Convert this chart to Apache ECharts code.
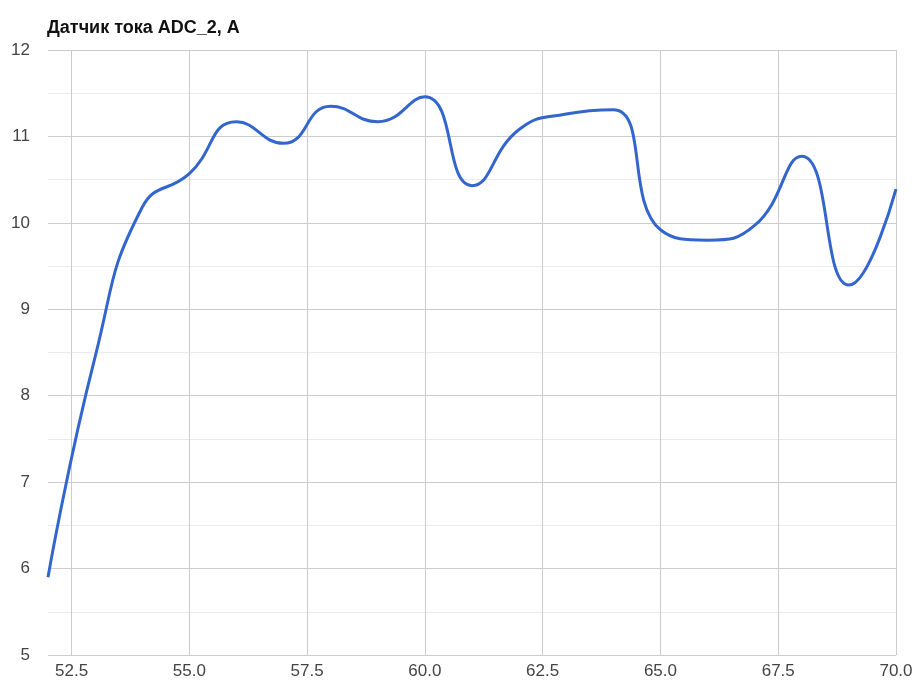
<!DOCTYPE html>
<html>
<head>
<meta charset="utf-8">
<script src="https://cdn.jsdelivr.net/npm/echarts@6/dist/echarts.min.js"></script>
<style>
  html, body { margin: 0; padding: 0; background: #fff; }
  #chart { width: 917px; height: 681px; }
</style>
</head>
<body>
<div id="chart"></div>
<script>
// Датчик тока ADC_2 — readings per time step
const xValues = [52, 53, 54, 55, 56, 57, 58, 59, 60, 61, 62, 63, 64, 65, 66, 67, 68, 69, 70];
const current = [5.9, 8.45, 10.18, 10.57, 11.17, 10.92, 11.35, 11.17, 11.46, 10.43, 11.08, 11.26, 11.31, 9.92, 9.8, 9.97, 10.77, 9.28, 10.39];
const xTicks = [52.5, 55, 57.5, 60, 62.5, 65, 67.5, 70];

const font = 'Liberation Sans, Arial, sans-serif';

let chart = echarts.init(document.getElementById('chart'));

chart.setOption({
  animation: false,
  title: {
    text: 'Датчик тока ADC_2, А',
    left: 42,
    top: 14,
    textStyle: { fontFamily: font, fontSize: 18, fontWeight: 'bold', color: '#111' }
  },
  grid: { left: 48, right: 21, top: 50, bottom: 26, containLabel: false },
  xAxis: {
    type: 'value',
    min: 52,
    max: 70,
    axisLine: { show: false },
    axisTick: { show: false, customValues: xTicks },
    axisLabel: {
      customValues: xTicks,
      formatter: v => v.toFixed(1),
      fontFamily: font,
      fontSize: 17,
      color: '#444',
      margin: 8
    },
    splitLine: { show: true, lineStyle: { color: '#ccc', width: 1 } }
  },
  yAxis: {
    type: 'value',
    min: 5,
    max: 12,
    interval: 1,
    axisLine: { show: false },
    axisTick: { show: false },
    axisLabel: { fontFamily: font, fontSize: 17, color: '#444', margin: 18 },
    splitLine: { show: true, lineStyle: { color: '#ccc', width: 1 } },
    minorTick: { show: false, splitNumber: 2 },
    minorSplitLine: { show: true, lineStyle: { color: '#ebebeb', width: 1 } }
  },
  series: [{
    type: 'line',
    data: xValues.map((x, i) => [x, current[i]]),
    smooth: 0.5,
    showSymbol: false,
    lineStyle: { color: '#3366cc', width: 3 }
  }]
});
</script>
</body>
</html>
